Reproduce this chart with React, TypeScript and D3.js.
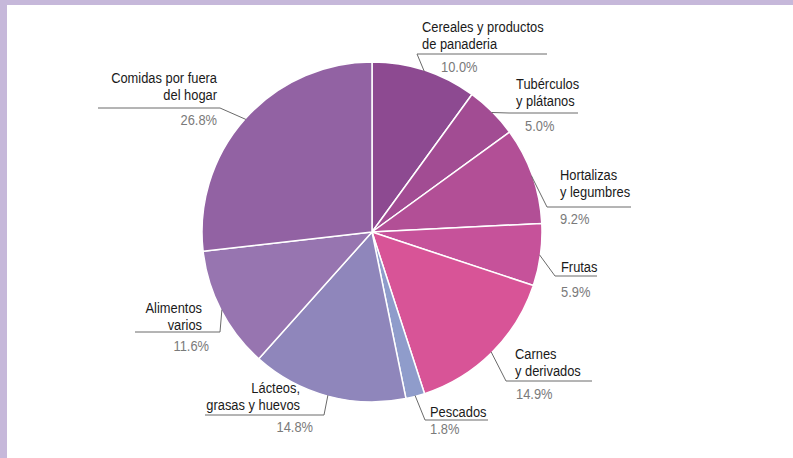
import React from "react";
import * as d3 from "d3";

const categories = [
  "Cereales y productos|de panaderia",
  "Tubérculos|y plátanos",
  "Hortalizas|y legumbres",
  "Frutas",
  "Carnes|y derivados",
  "Pescados",
  "Lácteos,|grasas y huevos",
  "Alimentos|varios",
  "Comidas por fuera|del hogar",
];
const values = [10.0, 5.0, 9.2, 5.9, 14.9, 1.8, 14.8, 11.6, 26.8];
const valueLabels = ["10.0%", "5.0%", "9.2%", "5.9%", "14.9%", "1.8%", "14.8%", "11.6%", "26.8%"];
const colors = ["#8d4a91", "#a24c93", "#b24f96", "#c6529a", "#d85497", "#8f9ccb", "#8f86bb", "#9775b0", "#9262a3"];

// label layout: elbow point (where leader meets underline), underline far end, side, text x, first baseline, pct x, pct baseline
const labelLayout = [
  { ex: 417, ey: 54, ux: 547, side: "r", tx: 422, ty: 32, px: 441, py: 72 },
  { ex: 509, ey: 113, ux: 578, side: "r", tx: 516, ty: 89, px: 525, py: 131 },
  { ex: 547, ey: 207, ux: 631, side: "r", tx: 560, ty: 180, px: 560, py: 224 },
  { ex: 555, ey: 276, ux: 597, side: "r", tx: 561, ty: 272, px: 561, py: 297 },
  { ex: 506, ey: 381, ux: 592, side: "r", tx: 515, ty: 359, px: 516, py: 399 },
  { ex: 425, ey: 420, ux: 488, side: "r", tx: 430, ty: 417, px: 430, py: 434 },
  { ex: 324, ey: 415, ux: 205, side: "l", tx: 300, ty: 393, px: 313, py: 432 },
  { ex: 220, ey: 332, ux: 135, side: "l", tx: 202, ty: 313, px: 209, py: 351 },
  { ex: 220, ey: 108, ux: 98, side: "l", tx: 217, ty: 83, px: 217, py: 125 },
];

const W = 793;
const H = 458;
const cx = 372;
const cy = 232;
const R = 170;
const FONT = "'Liberation Sans', Arial, sans-serif";
const SX = 0.92;

export default function App() {
  const pie = d3.pie<number>().sort(null).value((d) => d)(values);
  const arc = d3.arc<d3.PieArcDatum<number>>().innerRadius(0).outerRadius(R);

  return (
    <>
      <style>{`body{margin:0;}`}</style>
      <svg width={W} height={H} style={{ display: "block", background: "#fff" }}>
        <rect x={0} y={0} width={W} height={5} fill="#c6b8da" />
        <rect x={0} y={0} width={7} height={H} fill="#c6b8da" />
        <g transform={`translate(${cx},${cy})`}>
          {pie.map((p, i) => (
            <path key={i} d={arc(p) || ""} fill={colors[i]} stroke="#fff" strokeWidth={1.5} strokeLinejoin="round" />
          ))}
        </g>
        {pie.map((p, i) => {
          const L = labelLayout[i];
          const mid = (p.startAngle + p.endAngle) / 2;
          const lx = cx + Math.sin(mid) * (R - 1);
          const ly = cy - Math.cos(mid) * (R - 1);
          const lines = categories[i].split("|");
          const anchor = L.side === "r" ? "start" : "end";
          return (
            <g key={"l" + i} fontFamily={FONT} fontSize={14}>
              <polyline
                points={`${lx},${ly} ${L.ex},${L.ey} ${L.ux},${L.ey}`}
                fill="none"
                stroke="#6a6a6a"
                strokeWidth={1}
              />
              {lines.map((t, j) => (
                <text
                  key={j}
                  transform={`translate(${L.tx},${L.ty + j * 17}) scale(${SX},1)`}
                  textAnchor={anchor}
                  fill="#1a1a1a"
                >
                  {t}
                </text>
              ))}
              <text transform={`translate(${L.px},${L.py}) scale(${SX},1)`} textAnchor={anchor} fill="#7a7a7a">
                {valueLabels[i]}
              </text>
            </g>
          );
        })}
      </svg>
    </>
  );
}
